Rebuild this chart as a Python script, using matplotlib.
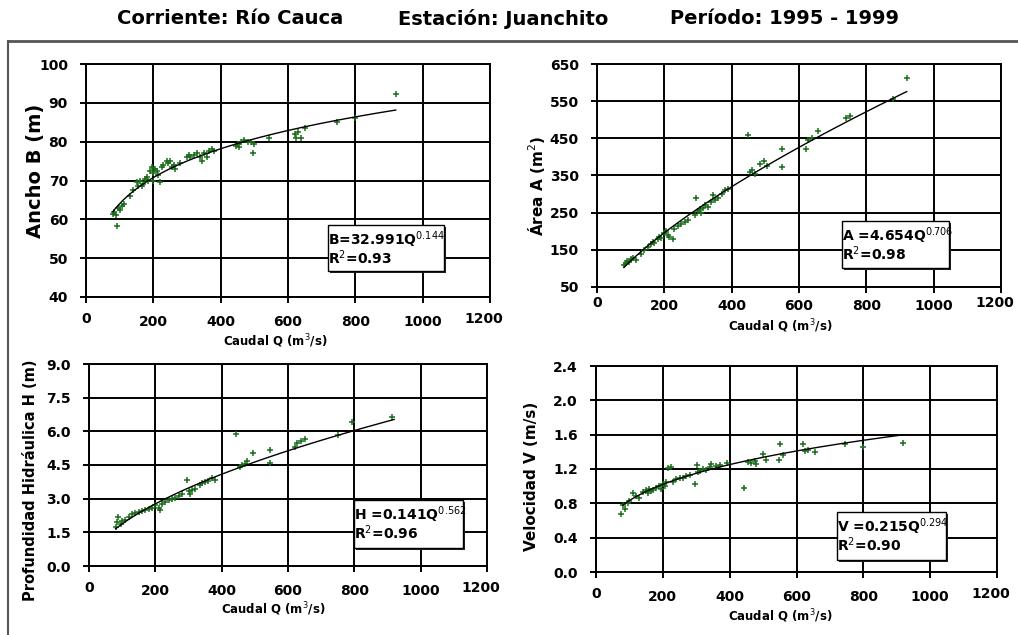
import numpy as np
import matplotlib
matplotlib.use("Agg")
import matplotlib.pyplot as plt
import matplotlib.transforms as mtransforms
from matplotlib.patches import Rectangle
from matplotlib.lines import Line2D

# ---- data ----
q_b = [80, 83, 88, 91, 95, 100, 108, 112, 130, 140, 150, 155, 160, 165, 170, 175, 180, 185, 190, 195,
       198, 200, 205, 210, 215, 220, 225, 230, 240, 245, 250, 255, 260, 265, 280, 300, 305, 310, 320, 330,
       340, 345, 350, 360, 365, 375, 380, 445, 450, 455, 460, 470, 480, 490, 497, 500, 545, 620, 625, 630,
       640, 650, 745, 800, 920]
ancho_b = [61.5, 62, 61, 58.3, 63, 62.5, 63.5, 64, 66, 67.5, 69.5, 68.5, 70, 68.5, 69, 70.5, 71, 70, 72.5, 73.5,
           72, 70, 73, 72.5, 71.5, 69.5, 73.5, 74, 75, 74.5, 75, 73.5, 74, 73, 74.5, 76, 76.5, 76, 76.5, 77,
           76, 75, 77, 76, 77.5, 78, 77.5, 79, 79.5, 78.5, 80, 80.5, 80, 80, 77, 79.5, 81, 82, 81, 82.5,
           81, 83.5, 85, 86, 92.2]

q_a = [80, 85, 90, 95, 100, 108, 115, 130, 140, 150, 160, 165, 170, 180, 185, 190, 200, 205, 210, 215,
       225, 230, 240, 250, 260, 270, 290, 295, 300, 305, 310, 315, 320, 330, 340, 345, 350, 360, 370, 380,
       390, 449, 455, 460, 470, 485, 495, 505, 549, 549, 620, 628, 640, 657, 740, 750, 880, 920]
area_a = [110, 115, 120, 117, 125, 127, 123, 140, 150, 158, 165, 172, 168, 180, 185, 183, 195, 200, 190, 185,
          180, 205, 215, 220, 225, 230, 245, 290, 255, 260, 250, 262, 270, 265, 280, 298, 285, 290, 300, 310,
          315, 459, 360, 365, 355, 380, 390, 375, 420, 372, 420, 446, 450, 470, 504, 510, 555, 612]

q_h = [80, 85, 88, 95, 100, 110, 120, 130, 140, 150, 160, 170, 180, 190, 200, 210, 214, 220, 230, 240,
       250, 260, 270, 280, 294, 300, 304, 310, 320, 335, 340, 350, 360, 370, 380, 443, 455, 460, 470, 475,
       495, 546, 546, 620, 626, 640, 651, 750, 792, 915]
prof_h = [1.75, 1.95, 2.2, 1.85, 2.0, 2.05, 2.2, 2.3, 2.35, 2.4, 2.45, 2.5, 2.55, 2.6, 2.7, 2.6, 2.5, 2.75, 2.85, 2.95,
          3.0, 3.05, 3.1, 3.2, 3.85, 3.35, 3.2, 3.4, 3.45, 3.6, 3.7, 3.75, 3.8, 3.9, 3.85, 5.9, 4.4, 4.5, 4.55, 4.7,
          5.05, 5.17, 4.6, 5.3, 5.5, 5.55, 5.65, 5.85, 6.4, 6.65]

q_v = [74, 80, 87, 95, 100, 112, 120, 130, 140, 150, 155, 160, 165, 170, 180, 190, 195, 200, 205, 210,
       216, 225, 230, 240, 250, 260, 270, 280, 296, 301, 305, 310, 320, 330, 340, 345, 360, 370, 391, 443,
       455, 465, 475, 480, 501, 510, 548, 551, 560, 619, 625, 635, 655, 745, 800, 920]
vel_v = [0.67, 0.78, 0.73, 0.8, 0.83, 0.92, 0.88, 0.86, 0.93, 0.95, 0.92, 0.97, 0.94, 0.96, 0.98, 1.0, 0.97, 1.02, 1.0, 1.05,
         1.21, 1.22, 1.05, 1.08, 1.09, 1.1, 1.12, 1.13, 1.03, 1.25, 1.16, 1.18, 1.2, 1.19, 1.22, 1.26, 1.24, 1.25, 1.27, 0.975,
         1.28, 1.27, 1.29, 1.26, 1.37, 1.3, 1.31, 1.49, 1.36, 1.49, 1.41, 1.42, 1.40, 1.49, 1.46, 1.506]

# fitted power laws shown in the chart (coef, exponent)
fit_b = (32.991, 0.144)
fit_a = (4.654, 0.706)
fit_h = (0.141, 0.562)
fit_v = (0.215, 0.294)
q_fit_range = (80, 920)

x_ticks = [0, 200, 400, 600, 800, 1000, 1200]
W, H = 1018, 635

fig = plt.figure(figsize=(W / 100, H / 100), dpi=100)
fig.patch.set_facecolor("white")


def px_axes(x0, y0, x1, y1):
    # pixel box (top-left origin) -> figure axes
    return fig.add_axes([x0 / W, 1 - y1 / H, (x1 - x0) / W, (y1 - y0) / H])


def style_axes(ax, ylim, yticks, yfmt, xpad):
    ax.set_xlim(0, 1200)
    ax.set_ylim(*ylim)
    ax.set_xticks(x_ticks)
    ax.set_yticks(yticks)
    ax.set_yticklabels([yfmt.format(v) for v in yticks])
    ax.grid(True, color="black", linewidth=1.4)
    ax.set_axisbelow(True)
    for s in ax.spines.values():
        s.set_linewidth(1.4)
    ax.tick_params(direction="out", length=4, width=1.4, labelsize=10)
    ax.tick_params(axis="x", pad=xpad)
    ax.tick_params(axis="y", pad=9)
    for lab in ax.get_xticklabels() + ax.get_yticklabels():
        lab.set_fontweight("bold")
    # first and last x labels sit a little higher, as in the original
    last = ax.get_xticklabels()[-1]
    last.set_transform(last.get_transform() + mtransforms.ScaledTranslation(-6 / 100, 3 / 100, fig.dpi_scale_trans))
    first = ax.get_xticklabels()[0]
    first.set_transform(first.get_transform() + mtransforms.ScaledTranslation(0, 3 / 100, fig.dpi_scale_trans))


def draw_panel(ax, q, vals, fit):
    ax.plot(q, vals, linestyle="none", marker="+", color="#1b6e1b", markersize=4, markeredgewidth=1.1)
    qq = np.linspace(q_fit_range[0], q_fit_range[1], 200)
    ax.plot(qq, fit[0] * qq ** fit[1], color="black", linewidth=1.0)


def set_labels(ax, ylabel, ysize, ypos, xpos):
    ax.set_ylabel(ylabel, fontsize=ysize, fontweight="bold")
    ax.yaxis.label.set_va("center")
    ax.yaxis.set_label_coords(*ypos)
    ax.set_xlabel("Caudal Q (m$^3$/s)", fontsize=8.5, fontweight="bold")
    ax.xaxis.label.set_va("center")
    ax.xaxis.set_label_coords(*xpos)


def eq_box(x0, y0, x1, y1, line1, line2):
    fig.patches.append(Rectangle((x0 / W + 2 / W, 1 - y1 / H - 2 / H), (x1 - x0) / W, (y1 - y0) / H,
                                 transform=fig.transFigure, facecolor="#222222", edgecolor="none", zorder=5))
    fig.patches.append(Rectangle((x0 / W, 1 - y1 / H), (x1 - x0) / W, (y1 - y0) / H,
                                 transform=fig.transFigure, facecolor="white", edgecolor="black",
                                 linewidth=1.0, zorder=6))
    fig.text(x0 / W, 1 - (y0 + 15) / H, line1, fontsize=10, fontweight="bold", va="center", ha="left", zorder=7)
    fig.text(x0 / W, 1 - (y0 + 33) / H, line2, fontsize=10, fontweight="bold", va="center", ha="left", zorder=7)


# panel 1: Ancho
ax1 = px_axes(86, 64, 490, 297)
draw_panel(ax1, q_b, ancho_b, fit_b)
style_axes(ax1, (40, 100), list(range(40, 101, 10)), "{:d}", 9)
set_labels(ax1, "Ancho B (m)", 14, (-0.126, 0.54), (0.468, -0.19))

# panel 2: Area
ax2 = px_axes(597, 64, 1001, 287)
draw_panel(ax2, q_a, area_a, fit_a)
style_axes(ax2, (50, 650), list(range(50, 651, 100)), "{:d}", 5)
set_labels(ax2, "Área A (m$^2$)", 11, (-0.15, 0.453), (0.453, -0.175))

# panel 3: Profundidad
ax3 = px_axes(89, 364, 487, 566)
draw_panel(ax3, q_h, prof_h, fit_h)
style_axes(ax3, (0, 9), [0, 1.5, 3.0, 4.5, 6.0, 7.5, 9.0], "{:.1f}", 9)
set_labels(ax3, "Profundidad Hidráulica H (m)", 10.5, (-0.148, 0.426), (0.462, -0.215))

# panel 4: Velocidad
ax4 = px_axes(596, 366, 997, 572)
draw_panel(ax4, q_v, vel_v, fit_v)
style_axes(ax4, (0, 2.4), [0, 0.4, 0.8, 1.2, 1.6, 2.0, 2.4], "{:.1f}", 9)
set_labels(ax4, "Velocidad V (m/s)", 11, (-0.162, 0.466), (0.459, -0.215))

# equation boxes
eq_box(328, 225, 444, 271, "B=32.991Q$^{0.144}$", "R$^2$=0.93")
eq_box(842, 221, 949, 268, "A =4.654Q$^{0.706}$", "R$^2$=0.98")
eq_box(354, 500, 463, 548, "H =0.141Q$^{0.562}$", "R$^2$=0.96")
eq_box(837, 512, 946, 560, "V =0.215Q$^{0.294}$", "R$^2$=0.90")

# outer frame lines
fig.add_artist(Line2D([8 / W, 1], [1 - 41 / H, 1 - 41 / H], color="#555555", linewidth=2, transform=fig.transFigure))
fig.add_artist(Line2D([8 / W, 8 / W], [0, 1 - 41 / H], color="#555555", linewidth=1.5, transform=fig.transFigure))

# header
for txt, xpos in [("Corriente: Río Cauca", 117), ("Estación: Juanchito", 398), ("Período: 1995 - 1999", 670)]:
    fig.text(xpos / W, 1 - 19 / H, txt, fontsize=14, fontweight="bold", ha="left", va="center")

fig.savefig("out.png", dpi=100)
